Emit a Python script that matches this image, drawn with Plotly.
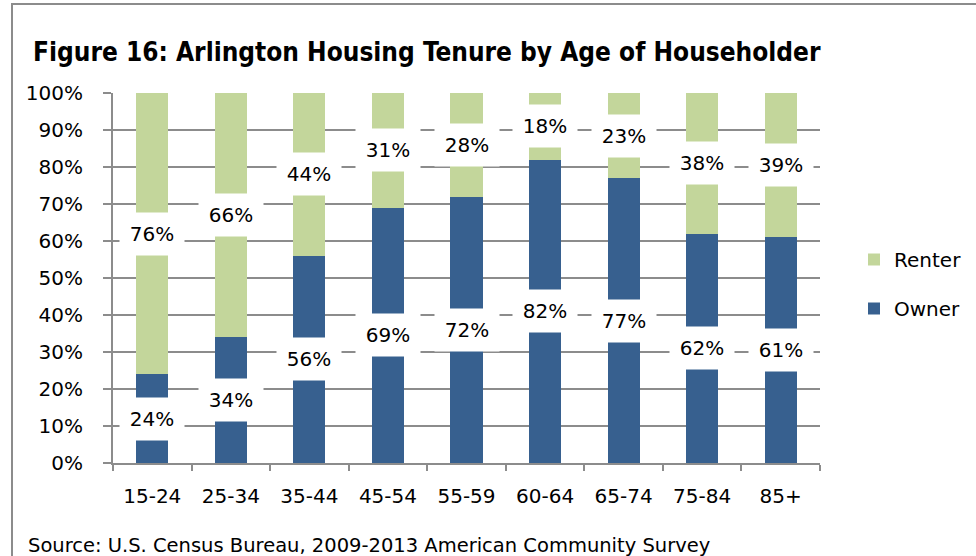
import plotly.graph_objects as go

categories = ["15-24", "25-34", "35-44", "45-54", "55-59", "60-64", "65-74", "75-84", "85+"]
owner = [24, 34, 56, 69, 72, 82, 77, 62, 61]
renter = [76, 66, 44, 31, 28, 18, 23, 38, 39]
yticks = [0, 10, 20, 30, 40, 50, 60, 70, 80, 90, 100]

OWNER_C = "#37608f"
RENTER_C = "#c3d69b"
FONT = "DejaVu Sans"

fig = go.Figure()
fig.add_trace(go.Bar(x=categories, y=owner, name="Owner", marker_color=OWNER_C,
                     marker_line_width=0, legendgroup="o", legendrank=2))
fig.add_trace(go.Bar(x=categories, y=renter, name="Renter", marker_color=RENTER_C,
                     marker_line_width=0, legendgroup="r", legendrank=1))

anns = []
for c, o, r in zip(categories, owner, renter):
    anns.append(dict(x=c, y=o / 2, text=f"{o}%", showarrow=False, bgcolor="white",
                     width=62, height=40, font=dict(family=FONT, size=20, color="black")))
    anns.append(dict(x=c, y=o + r / 2, text=f"{r}%", showarrow=False, bgcolor="white",
                     width=62, height=40, font=dict(family=FONT, size=20, color="black")))

L, R, T, B = 113, 820, 93, 463
W, H = R - L, B - T

def px(x):
    return (x - L) / W

def py(y):
    return (B - y) / H

anns.append(dict(xref="paper", yref="paper", x=px(31), y=py(52), xanchor="left", yanchor="middle",
                 text="<b>Figure 16: Arlington Housing Tenure by Age of Householder</b>",
                 showarrow=False, font=dict(family="DejaVu Sans Condensed", size=26, color="black")))
anns.append(dict(xref="paper", yref="paper", x=px(26), y=py(545), xanchor="left", yanchor="middle",
                 text="Source: U.S. Census Bureau, 2009-2013 American Community Survey",
                 showarrow=False, font=dict(family=FONT, size=19.5, color="black")))

fig.update_layout(
    width=976, height=556,
    margin=dict(l=L, r=976 - R, t=T, b=556 - B, autoexpand=False),
    barmode="stack", bargap=0.59,
    paper_bgcolor="white", plot_bgcolor="white",
    showlegend=True,
    legend=dict(x=px(854), y=py(240), xanchor="left", yanchor="top",
                traceorder="grouped", tracegroupgap=20,
                font=dict(family=FONT, size=20, color="black"), itemwidth=30),
    annotations=anns,
    shapes=[dict(type="rect", xref="paper", yref="paper", x0=px(12), x1=px(990),
                 y0=py(600), y1=py(4), line=dict(color="#8c8c8c", width=2), layer="below")],
    xaxis=dict(showline=True, linecolor="#8c8c8c", linewidth=2, ticks="outside",
               tickson="boundaries", ticklen=6, tickcolor="#8c8c8c", tickwidth=2,
               ticklabelstandoff=14,
               tickfont=dict(family=FONT, size=20, color="black")),
    yaxis=dict(range=[0, 100], tickvals=yticks, ticktext=[f"{v}%" for v in yticks],
               showline=True, linecolor="#8c8c8c", linewidth=2, ticks="outside",
               ticklen=8, tickcolor="#8c8c8c", tickwidth=2, showgrid=True,
               gridcolor="#8c8c8c", gridwidth=2, zeroline=False,
               ticklabelstandoff=16,
               tickfont=dict(family=FONT, size=20, color="black")),
)

fig.write_html("out.html", config={"displayModeBar": False},
               post_script="document.body.style.margin='0';document.body.style.overflow='hidden';")
